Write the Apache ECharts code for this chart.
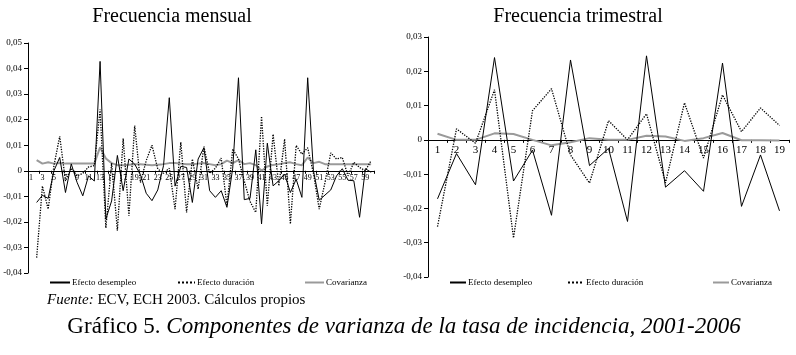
<!DOCTYPE html>
<html>
<head>
<meta charset="utf-8">
<script src="https://cdn.jsdelivr.net/npm/echarts@6/dist/echarts.min.js"></script>
<style>
  html, body { margin: 0; padding: 0; background: #fff; }
  #main { width: 796px; height: 355px; }
</style>
</head>
<body>
<div id="main"></div>
<script>
// monthly panel: categories 1..60 (first has no value)
var mesCats = [];
for (var i = 1; i <= 60; i++) mesCats.push(String(i));
var desempleoMes = [null, -0.0124, -0.0096, -0.0108, 0.0, 0.0052, -0.0085, 0.0027, -0.0045, -0.0098,
  -0.002, -0.004, 0.0428, -0.0189, -0.0118, 0.006, -0.0078, 0.0046, 0.0026, -0.0015,
  -0.0088, -0.0117, -0.0075, 0.002, 0.0286, -0.006, 0.0017, 0.0013, -0.0124, 0.0046,
  0.009, -0.0078, -0.0104, -0.0078, -0.0143, 0.001, 0.0364, -0.0113, -0.0108, 0.0082,
  -0.0208, 0.0108, -0.0059, -0.0039, -0.0013, -0.0085, -0.0033, -0.0104, 0.0364, 0.0,
  -0.0115, -0.0095, -0.0075, -0.002, 0.0008, -0.0037, -0.0039, -0.0182, 0.0008, -0.0006];
var duracionMes = [null, -0.034, -0.006, -0.015, 0.002, 0.0135, -0.004, 0.001, -0.002, -0.001,
  0.0015, 0.002, 0.024, -0.0224, 0.003, -0.0234, 0.0126, -0.0176, 0.0177, -0.0046,
  0.004, 0.01, 0.0007, -0.001, 0.001, -0.015, 0.0112, -0.0163, 0.0046, -0.0072,
  0.0095, -0.001, 0.001, 0.005, -0.0137, 0.0085, 0.0046, -0.004, -0.012, -0.0163,
  0.0213, -0.0137, 0.0143, -0.0059, 0.0124, -0.0208, 0.0099, 0.0065, 0.009, -0.001,
  -0.015, -0.0046, 0.007, 0.0046, 0.0052, -0.002, 0.0033, 0.0013, 0.0, 0.004];
var covarianzaMes = [null, 0.0042, 0.0028, 0.0033, 0.0028, 0.003, 0.0028, 0.0028, 0.0028, 0.0028,
  0.0028, 0.0028, 0.0092, 0.0048, 0.003, 0.0022, 0.0022, 0.0024, 0.0026, 0.0026,
  0.0024, 0.0022, 0.0024, 0.0026, 0.003, 0.003, 0.0028, 0.0026, 0.0026, 0.0028,
  0.003, 0.0026, 0.0022, 0.0026, 0.004, 0.003, 0.0042, 0.0026, 0.003, 0.0022,
  0.0, 0.0017, 0.0023, 0.0026, 0.003, 0.0033, 0.0026, 0.0022, 0.0052, 0.003,
  0.0035, 0.0026, 0.0026, 0.0026, 0.0026, 0.0026, 0.0026, 0.0026, 0.0026, 0.0026];

// quarterly panel
var trimCats = ['1','2','3','4','5','6','7','8','9','10','11','12','13','14','15','16','17','18','19'];
var desempleoTrim = [-0.0172, -0.004, -0.0131, 0.024, -0.012, -0.003, -0.022, 0.0233, -0.0075, -0.0025,
  -0.0238, 0.0245, -0.0138, -0.009, -0.015, 0.0224, -0.0194, -0.0044, -0.0207];
var duracionTrim = [-0.0253, 0.0032, -0.001, 0.0146, -0.0286, 0.0085, 0.0149, -0.0044, -0.0126, 0.0056,
  0.0, 0.0076, -0.0125, 0.0108, -0.0053, 0.0131, 0.0024, 0.0093, 0.0042];
var covarianzaTrim = [0.0018, 0.0, 0.0, 0.0019, 0.0017, 0.0, -0.0016, -0.0007, 0.0005, 0.0,
  0.0, 0.0012, 0.001, -0.0003, 0.0005, 0.002, -0.0001, -0.0001, -0.0002];

var serif = 'Liberation Serif';
var gris = '#9a9a9a';

function fmt(v) {
  var n = Math.round(v * 100);
  if (n === 0) return '0';
  return (n < 0 ? '-' : '') + '0,0' + Math.abs(n);
}

function yAxis(idx, max) {
  return {
    gridIndex: idx, type: 'value', min: -0.04, max: max, interval: 0.01,
    splitLine: { show: false },
    axisLine: { show: true, lineStyle: { color: '#000', width: 1 } },
    axisTick: { show: true, length: 4, lineStyle: { color: '#000' } },
    axisLabel: { formatter: fmt, fontFamily: serif, fontSize: 9, color: '#000', margin: 6 }
  };
}

// x axis drawn at value 0 by pulling it up from the grid bottom
function xAxis(idx, cats, size, interval, lift, margin) {
  return {
    gridIndex: idx, type: 'category', data: cats, boundaryGap: true,
    position: 'bottom', offset: -lift,
    axisLine: { onZero: false, lineStyle: { color: '#000', width: 1 } },
    axisTick: { show: true, length: 3, lineStyle: { color: '#000' } },
    axisLabel: { fontFamily: serif, fontSize: size, color: '#000', interval: interval, margin: margin },
    splitLine: { show: false }
  };
}

function legendItem(name, left, w) {
  return {
    data: [name], left: left, top: 273, itemWidth: w, itemHeight: 10, itemGap: 0,
    itemStyle: { opacity: 0 },
    textStyle: { fontFamily: serif, fontSize: 9, color: '#000', padding: [0, 0, 0, -3] },
    selectedMode: false
  };
}

var chart = echarts.init(document.getElementById('main'));
chart.setOption({
  animation: false,
  backgroundColor: '#fff',
  grid: [
    { left: 28, width: 346, top: 43, height: 230 },
    { left: 428, width: 361, top: 37, height: 240 }
  ],
  xAxis: [xAxis(0, mesCats, 8, 1, 230 * 4 / 9, 3), xAxis(1, trimCats, 11, 0, 240 * 4 / 7, 5)],
  yAxis: [yAxis(0, 0.05), yAxis(1, 0.03)],
  legend: [
    legendItem('Efecto desempleo', 44, 20),
    legendItem('Efecto duración', 172, 17),
    legendItem('Covarianza', 299, 19),
    legendItem('Efecto desempleo', 444, 16),
    legendItem('Efecto duración', 562, 16),
    legendItem('Covarianza', 707, 16)
  ],
  graphic: [
    { type: 'text', x: 172, y: 7, style: { text: 'Frecuencia mensual', font: '20px "Liberation Serif"', fill: '#000', textAlign: 'center' } },
    { type: 'text', x: 578, y: 7, style: { text: 'Frecuencia trimestral', font: '20px "Liberation Serif"', fill: '#000', textAlign: 'center' } },
    { type: 'text', x: 47, y: 293, style: {
      text: '{i|Fuente:} ECV, ECH 2003. Cálculos propios',
      font: '15px "Liberation Serif"', fill: '#000',
      rich: { i: { fontStyle: 'italic', fontFamily: serif, fontSize: 15 } }
    } },
    { type: 'text', x: 404, y: 315, style: {
      text: 'Gráfico 5. {i|Componentes de varianza de la tasa de incidencia, 2001-2006}',
      font: '23px "Liberation Serif"', fill: '#000', textAlign: 'center',
      rich: { i: { fontStyle: 'italic', fontFamily: serif, fontSize: 23 } }
    } }
  ],
  series: [
    { name: 'Efecto desempleo', type: 'line', xAxisIndex: 0, yAxisIndex: 0, data: desempleoMes,
      symbol: 'none', lineStyle: { color: '#000', width: 1 }, itemStyle: { color: '#000' }, z: 3 },
    { name: 'Efecto duración', type: 'line', xAxisIndex: 0, yAxisIndex: 0, data: duracionMes,
      symbol: 'none', lineStyle: { color: '#000', width: 1.3, type: 'dotted' }, itemStyle: { color: '#000' }, z: 2 },
    { name: 'Covarianza', type: 'line', xAxisIndex: 0, yAxisIndex: 0, data: covarianzaMes,
      symbol: 'none', lineStyle: { color: gris, width: 2 }, itemStyle: { color: gris }, z: 1 },
    { name: 'Efecto desempleo', type: 'line', xAxisIndex: 1, yAxisIndex: 1, data: desempleoTrim,
      symbol: 'none', lineStyle: { color: '#000', width: 1 }, itemStyle: { color: '#000' }, z: 3 },
    { name: 'Efecto duración', type: 'line', xAxisIndex: 1, yAxisIndex: 1, data: duracionTrim,
      symbol: 'none', lineStyle: { color: '#000', width: 1.3, type: 'dotted' }, itemStyle: { color: '#000' }, z: 2 },
    { name: 'Covarianza', type: 'line', xAxisIndex: 1, yAxisIndex: 1, data: covarianzaTrim,
      symbol: 'none', lineStyle: { color: gris, width: 2 }, itemStyle: { color: gris }, z: 1 }
  ]
});
</script>
</body>
</html>
